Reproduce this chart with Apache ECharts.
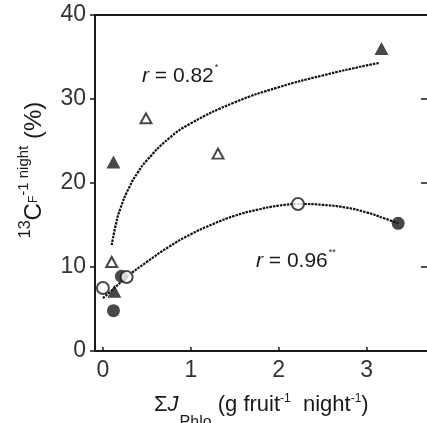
<!DOCTYPE html>
<html>
<head>
<meta charset="utf-8">
<script src="https://cdn.jsdelivr.net/npm/echarts@6/dist/echarts.min.js"></script>
<style>
  html, body { margin: 0; padding: 0; background: #fff; }
  #chart { width: 427px; height: 423px; }
</style>
</head>
<body>
<div id="chart"></div>
<script>
// Tick values on each axis
const xTicks = [0, 1, 2, 3];
const yTicks = [0, 10, 20, 30, 40];

// Measured points: [flux, 13C fraction]
const filledTriangles = [[3.17, 36.0], [0.12, 22.5], [0.13, 7.1]];
const openTriangles   = [[0.49, 27.7], [1.31, 23.5], [0.10, 10.6]];
const openCircles     = [[0.00, 7.5], [0.27, 8.8], [2.22, 17.5]];
const filledCircles   = [[0.21, 8.9], [0.12, 4.8], [3.36, 15.2]];

// Fitted trend curves (triangles: upper, circles: lower)
const upperCurveX = [0.10, 0.15, 0.20, 0.30, 0.40, 0.50, 0.75, 1.00, 1.50, 2.00, 2.50, 3.00, 3.15];
const upperCurveY = [12.6, 15.2, 17.0, 19.5, 21.3, 22.7, 25.3, 27.1, 29.6, 31.4, 32.8, 34.0, 34.3];
const lowerCurveX = [0.00, 0.10, 0.27, 0.50, 0.75, 1.00, 1.25, 1.50, 1.75, 2.00, 2.25, 2.50, 2.75, 3.00, 3.20, 3.36];
const lowerCurveY = [6.3, 7.2, 8.8, 10.6, 12.4, 13.9, 15.1, 16.1, 16.8, 17.3, 17.5, 17.4, 17.1, 16.5, 15.8, 15.2];

const zip = (xs, ys) => xs.map((x, i) => [x, ys[i]]);

const FONT = '"Liberation Sans", Arial, sans-serif';
const INK = '#1a1a1a';
const LABEL = '#333';

const chart = echarts.init(document.getElementById('chart'), null, { renderer: 'canvas' });

const curveStyle = { color: '#111', width: 2.2, type: [2.5, 1] };
const X_MIN = -0.09, X_MAX = 3.688;

chart.setOption({
  animation: false,
  backgroundColor: '#fff',
  grid: { left: 95, right: -3, top: 15, bottom: 72 },
  xAxis: [{
    type: 'value', min: X_MIN, max: X_MAX,
    axisLine: { onZero: false, lineStyle: { color: INK, width: 2 } },
    axisTick: { inside: true, length: 4, customValues: xTicks, lineStyle: { color: INK, width: 1.5 } },
    axisLabel: { customValues: xTicks, margin: 8, fontSize: 23, color: LABEL, fontFamily: FONT },
    splitLine: { show: false }
  }, {
    type: 'value', position: 'top', min: X_MIN, max: X_MAX,
    axisLine: { show: true, onZero: false, lineStyle: { color: INK, width: 2 } },
    axisTick: { show: false }, axisLabel: { show: false }, splitLine: { show: false }
  }],
  yAxis: [{
    type: 'value', min: 0, max: 40, interval: 10,
    axisLine: { show: true, onZero: false, lineStyle: { color: INK, width: 2 } },
    axisTick: { show: true, length: 5, customValues: yTicks, lineStyle: { color: INK, width: 1.5 } },
    axisLabel: { margin: 9, fontSize: 23, color: LABEL, fontFamily: FONT },
    splitLine: { show: false }
  }, {
    // right frame edge sits just past the canvas; only its inner ticks show
    type: 'value', position: 'right', min: 0, max: 40, interval: 10,
    axisLine: { show: false, onZero: false },
    axisTick: { show: true, inside: true, length: 6, lineStyle: { color: INK, width: 1.5 } },
    axisLabel: { show: false }, splitLine: { show: false }
  }],
  series: [
    { type: 'line', data: zip(upperCurveX, upperCurveY), smooth: true, showSymbol: false,
      lineStyle: curveStyle, z: 2 },
    { type: 'line', data: zip(lowerCurveX, lowerCurveY), smooth: true, showSymbol: false,
      lineStyle: curveStyle, z: 2 },
    { type: 'scatter', data: filledTriangles, symbol: 'triangle', symbolSize: [14, 13],
      itemStyle: { color: INK }, z: 5 },
    { type: 'scatter', data: openTriangles, symbol: 'triangle', symbolSize: [11, 10],
      itemStyle: { color: '#fff', borderColor: INK, borderWidth: 2 }, z: 5 },
    { type: 'scatter', data: filledCircles, symbol: 'circle', symbolSize: 13,
      itemStyle: { color: INK }, z: 5 },
    { type: 'scatter', data: openCircles, symbol: 'circle', symbolSize: 12,
      itemStyle: { color: '#fff', borderColor: INK, borderWidth: 2 }, z: 6 }
  ],
  graphic: [
    { // correlation label for the triangle fit
      type: 'text', x: 142, y: 76, z: 10,
      style: {
        text: '{i|r}{n| = 0.82}{s|*}', verticalAlign: 'middle',
        rich: {
          i: { fontSize: 21, fontStyle: 'italic', fontFamily: FONT, fill: INK },
          n: { fontSize: 21, fontFamily: FONT, fill: INK },
          s: { fontSize: 9, fontFamily: FONT, fill: INK, padding: [0, 0, 16, 1] }
        }
      }
    },
    { // correlation label for the circle fit
      type: 'text', x: 256, y: 261, z: 10,
      style: {
        text: '{i|r}{n| = 0.96}{s|**}', verticalAlign: 'middle',
        rich: {
          i: { fontSize: 21, fontStyle: 'italic', fontFamily: FONT, fill: INK },
          n: { fontSize: 21, fontFamily: FONT, fill: INK },
          s: { fontSize: 9, fontFamily: FONT, fill: INK, padding: [0, 0, 16, 1] }
        }
      }
    },
    { // x-axis title
      type: 'text', x: 154, y: 405, z: 10,
      style: {
        text: '{n|Σ}{j|J}{sub|Phlo}{n| (g fruit}{sup|-1}{n|  night}{sup|-1}{n|)}',
        verticalAlign: 'middle',
        rich: {
          n: { fontSize: 22, fontFamily: FONT, fill: INK },
          j: { fontSize: 22, fontStyle: 'italic', fontFamily: FONT, fill: INK },
          sub: { fontSize: 16, fontFamily: FONT, fill: INK, padding: [36, 0, 0, 1] },
          sup: { fontSize: 12, fontFamily: FONT, fill: INK, padding: [0, 0, 12, 0] }
        }
      }
    },
    { // y-axis title
      type: 'text', x: 34, y: 170, rotation: Math.PI / 2, z: 10,
      style: {
        text: '{s13|13}{n|C}{f|F}{sup|-1 night}{n| (%)}',
        align: 'center', verticalAlign: 'middle',
        rich: {
          n: { fontSize: 24, fontFamily: FONT, fill: INK },
          s13: { fontSize: 16, fontFamily: FONT, fill: INK, padding: [0, 0, 16, 0] },
          f: { fontSize: 12, fontFamily: FONT, fill: INK },
          sup: { fontSize: 15, fontFamily: FONT, fill: INK, padding: [0, 0, 20, 0] }
        }
      }
    }
  ]
});
</script>
</body>
</html>
